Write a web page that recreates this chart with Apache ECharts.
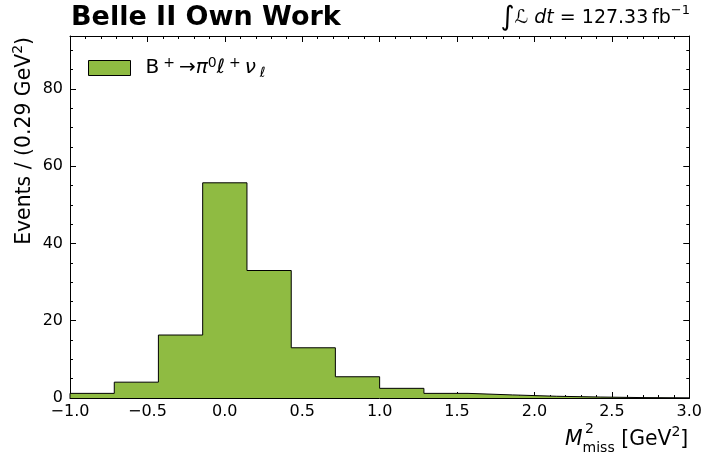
<!DOCTYPE html>
<html>
<head>
<meta charset="utf-8">
<script src="https://cdn.jsdelivr.net/npm/echarts@6/dist/echarts.min.js"></script>
<style>
  html, body { margin: 0; padding: 0; background: #fff; }
  #chart { width: 705px; height: 456px; }
</style>
</head>
<body>
<div id="chart"></div>
<script>
// Missing-mass-squared distribution, 14 equal bins from -1 to 3 GeV^2
const binEdges = [-1.0, -0.714, -0.429, -0.143, 0.143, 0.429, 0.714, 1.0,
                  1.286, 1.571, 1.857, 2.143, 2.429, 2.714, 3.0];
const binCounts = [1.2, 4.1, 16.3, 55.7, 33.0, 13.0, 5.5, 2.5,
                   1.2, 0.8, 0.45, 0.25, 0.1, 0.05];
const xRange = [-1.0, 3.0];
const yRange = [0, 93.7];
const seriesName = 'signal';

const FONT = 'DejaVu Sans';
const FILL = '#8fbb42';
const INK = '#000';

// Closed step outline: up the first edge, across every bin, down the last edge
const outline = [[binEdges[0], 0]];
binCounts.forEach((c, i) => outline.push([binEdges[i], c]));
outline.push([binEdges[binEdges.length - 1], binCounts[binCounts.length - 1]]);
outline.push([binEdges[binEdges.length - 1], 0]);

const fmtX = v => (v < 0 ? '\u2212' : '') + Math.abs(v).toFixed(1);

function xAxisCfg(pos, labels) {
  return {
    type: 'value', position: pos, min: xRange[0], max: xRange[1], interval: 0.5,
    axisLine: { show: true, onZero: false, lineStyle: { color: INK, width: 1 } },
    axisTick: { show: true, inside: true, length: 6, lineStyle: { color: INK, width: 1 } },
    minorTick: { show: true, splitNumber: 5, length: 3, lineStyle: { color: INK, width: 1 } },
    splitLine: { show: false }, minorSplitLine: { show: false },
    axisLabel: { show: labels, color: INK, fontFamily: FONT, fontSize: 16, margin: 6, formatter: fmtX }
  };
}
function yAxisCfg(pos, interval, tickLen, labels, line) {
  return {
    type: 'value', position: pos, min: yRange[0], max: yRange[1], interval: interval,
    axisLine: { show: line, onZero: false, lineStyle: { color: INK, width: 1 } },
    axisTick: { show: true, inside: true, length: tickLen, lineStyle: { color: INK, width: 1 } },
    splitLine: { show: false },
    axisLabel: { show: labels, color: INK, fontFamily: FONT, fontSize: 16, margin: 7, showMaxLabel: false }
  };
}

const chart = echarts.init(document.getElementById('chart'), null, { renderer: 'canvas' });
chart.setOption({
  animation: false,
  backgroundColor: '#fff',
  grid: { left: 70, right: 15, top: 36, bottom: 58, containLabel: false },
  xAxis: [xAxisCfg('bottom', true), xAxisCfg('top', false)],
  yAxis: [
    yAxisCfg('left', 20, 6, true, true),
    yAxisCfg('left', 5, 3, false, false),
    yAxisCfg('right', 20, 6, false, true),
    yAxisCfg('right', 5, 3, false, false)
  ],
  legend: {
    left: 88, top: 56, padding: 0, itemWidth: 42, itemHeight: 15, icon: 'rect', selectedMode: false,
    itemStyle: { color: FILL, borderColor: INK, borderWidth: 1 },
    data: [seriesName],
    formatter: () => 'B\u2009{sup|+}\u2009\u2192{it|\u03c0}{sup|0}{it|\u2113}\u2009{sup|+}\u2009{it|\u03bd}\u2009{sub|\u2113}',
    textStyle: {
      fontFamily: FONT, fontSize: 20, color: INK, lineHeight: 24, padding: [0, 0, 0, 10],
      rich: {
        sup: { fontFamily: FONT, fontSize: 14, lineHeight: 13, verticalAlign: 'top', color: INK },
        sub: { fontFamily: FONT, fontSize: 14, lineHeight: 13, verticalAlign: 'bottom', fontStyle: 'italic', color: INK },
        it: { fontFamily: FONT, fontSize: 20, fontStyle: 'italic', color: INK }
      }
    }
  },
  series: [{
    name: seriesName,
    type: 'line',
    step: 'end',
    xAxisIndex: 0, yAxisIndex: 0,
    symbol: 'none',
    data: outline,
    itemStyle: { color: FILL },
    lineStyle: { color: INK, width: 1 },
    areaStyle: { color: FILL, opacity: 1 },
    z: 1
  }],
  graphic: [
    {
      type: 'text', x: 71, y: 18,
      style: { text: 'Belle II Own Work', font: 'bold 27px "DejaVu Sans"', fill: INK, align: 'left', verticalAlign: 'middle' }
    },
    {
      type: 'text', x: 690, y: 18,
      style: {
        text: '{int|\u222b}{cal|\u2112} {it|dt} = 127.33\u2009fb{sup|\u22121}',
        font: '19px "DejaVu Sans"', fill: INK, align: 'right', verticalAlign: 'middle', lineHeight: 28,
        rich: {
          int: { font: '27px "DejaVu Sans"', lineHeight: 28 },
          cal: { font: 'italic 19px "DejaVu Sans"' },
          it: { font: 'italic 19px "DejaVu Sans"' },
          sup: { font: '13px "DejaVu Sans"', lineHeight: 16, verticalAlign: 'top' }
        }
      }
    },
    {
      type: 'text', x: 25, y: 37, rotation: Math.PI / 2,
      style: {
        text: 'Events / (0.29 GeV{sup|2})',
        font: '20.4px "DejaVu Sans"', fill: INK, align: 'right', verticalAlign: 'middle', lineHeight: 28,
        rich: { sup: { font: '14px "DejaVu Sans"', lineHeight: 16, verticalAlign: 'top' } }
      }
    },
    {
      type: 'text', x: 565, y: 440,
      style: {
        text: '{it|M}{sub|miss} [GeV{sup|2}]',
        font: '20.4px "DejaVu Sans"', fill: INK, align: 'left', verticalAlign: 'middle', lineHeight: 30,
        rich: {
          it: { font: 'italic 20.4px "DejaVu Sans"' },
          sub: { font: '14px "DejaVu Sans"', lineHeight: 15, verticalAlign: 'bottom' },
          sup: { font: '14px "DejaVu Sans"', lineHeight: 17, verticalAlign: 'top' }
        }
      }
    },
    {
      type: 'text', x: 585, y: 429,
      style: { text: '2', font: '14px "DejaVu Sans"', fill: INK, align: 'left', verticalAlign: 'middle' }
    }
  ]
});
</script>
</body>
</html>
